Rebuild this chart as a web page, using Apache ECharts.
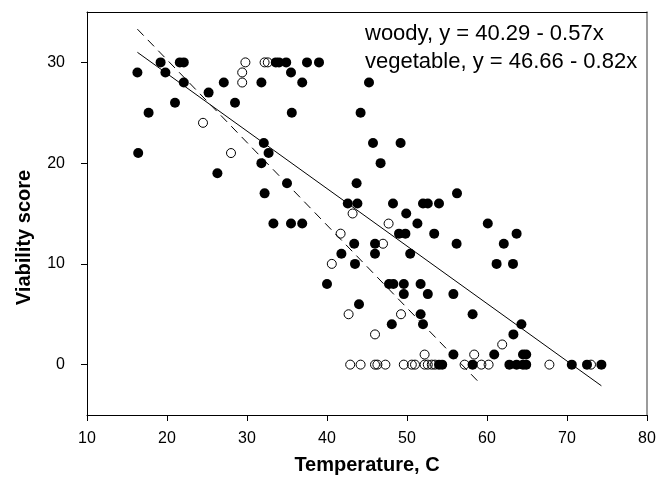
<!DOCTYPE html>
<html>
<head>
<meta charset="utf-8">
<script src="https://cdn.jsdelivr.net/npm/echarts@6/dist/echarts.min.js"></script>
<style>
  html, body { margin: 0; padding: 0; background: #ffffff; }
  #chart { width: 668px; height: 484px; }
</style>
</head>
<body>
<div id="chart"></div>
<script>
// woody (filled circles)
const woodyTemp = [
  16.3, 16.4, 17.7, 19.2, 19.8, 21.0, 21.6, 22.1, 22.1, 25.2, 26.3, 27.1, 28.5,
  31.8, 31.8, 32.1, 32.2, 32.7, 33.3, 33.6, 34.0, 34.9, 35.0, 35.5, 35.6, 35.5,
  36.9, 36.9, 37.5, 39.0, 40.0, 41.8, 42.6, 43.8, 43.4, 43.5, 43.7, 44.0, 44.2,
  45.25, 45.75, 46.0, 46.0, 46.7, 47.75, 48.3, 48.1, 48.25, 49.0, 49.2, 49.6,
  49.6, 49.8, 49.9, 50.4, 51.3, 51.7, 51.7, 52.0, 52.0, 52.6, 52.6, 53.4, 54.0,
  54.0, 54.4, 55.8, 55.8, 56.2, 56.25, 58.2, 58.2, 60.1, 60.9, 61.2, 62.1, 62.8,
  63.25, 63.3, 63.7, 63.7, 64.3, 64.5, 64.9, 64.5, 64.9, 70.6, 72.5, 74.3
];
const woodyScore = [
  29, 21, 25, 30, 29, 26, 30, 30, 28, 27, 19, 28, 26,
  28, 20, 22, 17, 21, 14, 30, 30, 30, 18, 29, 25, 14,
  28, 14, 30, 30, 8, 11, 16, 16, 12, 10, 18, 6, 25,
  28, 22, 12, 11, 20, 8, 8, 4, 16, 13, 22, 8,
  7, 13, 15, 11, 14, 8, 5, 4, 16, 16, 7, 13, 16,
  0, 0, 7, 1, 12, 17, 5, 0, 14, 1, 10, 12, 0,
  10, 3, 13, 0, 4, 1, 1, 0, 0, 0, 0, 0
];

// vegetable (open circles)
const vegTemp = [
  24.5, 28.0, 29.4, 29.4, 29.8, 32.2, 32.6, 40.6, 41.7, 42.7, 43.2, 46.0, 47.0,
  47.7, 49.25, 52.2, 58.4, 61.9,
  42.9, 44.2, 46.0, 46.3, 47.3, 49.6, 50.6, 51.0, 52.2, 52.6, 53.1, 53.5, 57.2,
  59.3, 60.2, 67.8, 73.0
];
const vegScore = [
  24, 21, 29, 28, 30, 30, 30, 10, 13, 5, 15, 3, 12,
  14, 5, 1, 1, 2,
  0, 0, 0, 0, 0, 0, 0, 0, 0, 0, 0, 0, 0,
  0, 0, 0, 0
];

// fitted line end points
const woodyFitTemp = [16.3, 74.3];
const woodyFitScore = [31.0, -2.1];
const vegFitTemp = [16.3, 58.8];
const vegFitScore = [33.3, -1.6];

const xTicks = [10, 20, 30, 40, 50, 60, 70, 80];
const yTicks = [0, 10, 20, 30];

const notes = [
  "woody, y = 40.29 - 0.57x",
  "vegetable, y = 46.66 - 0.82x"
];

const pairs = (xs, ys) => xs.map((x, i) => [x, ys[i]]);
const font = "'Liberation Sans', Arial, sans-serif";

const chart = echarts.init(document.getElementById("chart"), null, { renderer: "canvas" });

chart.setOption({
  animation: false,
  backgroundColor: "#ffffff",
  textStyle: { fontFamily: font },
  grid: {
    left: 87,
    right: 21,
    top: 12,
    bottom: 69,
    containLabel: false,
    outerBoundsMode: "none"
  },
  xAxis: [
    {
      type: "value",
      min: xTicks[0],
      max: xTicks[xTicks.length - 1],
      interval: 10,
      name: "Temperature, C",
      nameLocation: "middle",
      nameGap: 40,
      nameTextStyle: { fontSize: 20, fontWeight: "bold", color: "#000", fontFamily: font },
      axisLine: { onZero: false, lineStyle: { color: "#000", width: 1 } },
      axisTick: { show: true, inside: false, length: 6, lineStyle: { color: "#000" } },
      axisLabel: { fontSize: 16, color: "#000", margin: 16, fontFamily: font },
      splitLine: { show: false }
    },
    {
      type: "value",
      position: "top",
      min: xTicks[0],
      max: xTicks[xTicks.length - 1],
      axisLine: { onZero: false, lineStyle: { color: "#000", width: 1 } },
      axisTick: { show: false },
      axisLabel: { show: false },
      splitLine: { show: false }
    }
  ],
  yAxis: [
    {
      type: "value",
      min: -5,
      max: 35,
      name: "Viability score",
      nameLocation: "middle",
      nameGap: 53,
      nameRotate: 90,
      nameTextStyle: {
        fontSize: 20, fontWeight: "bold", color: "#000", fontFamily: font,
        padding: [0, 48, 0, 0]
      },
      axisLine: { show: true, onZero: false, lineStyle: { color: "#000", width: 1 } },
      axisTick: { show: true, length: 6, customValues: yTicks, lineStyle: { color: "#000" } },
      axisLabel: { fontSize: 16, color: "#000", margin: 22, customValues: yTicks, fontFamily: font },
      splitLine: { show: false }
    },
    {
      type: "value",
      position: "right",
      min: -5,
      max: 35,
      axisLine: { show: true, onZero: false, lineStyle: { color: "#7a7a7a", width: 1.5 } },
      axisTick: { show: false },
      axisLabel: { show: false },
      splitLine: { show: false }
    }
  ],
  graphic: notes.map((t, i) => ({
    type: "text",
    left: 365,
    top: 23 + i * 28,
    style: { text: t, fontSize: 22, fill: "#000", fontFamily: font }
  })),
  series: [
    {
      name: "vegetable fit",
      type: "line",
      data: pairs(vegFitTemp, vegFitScore),
      showSymbol: false,
      lineStyle: { color: "#000", width: 1, type: [9, 6] },
      z: 1
    },
    {
      name: "woody fit",
      type: "line",
      data: pairs(woodyFitTemp, woodyFitScore),
      showSymbol: false,
      lineStyle: { color: "#000", width: 1 },
      z: 1
    },
    {
      name: "vegetable",
      type: "scatter",
      data: pairs(vegTemp, vegScore),
      symbol: "circle",
      symbolSize: 9,
      itemStyle: { color: "rgba(255,255,255,0)", borderColor: "#000", borderWidth: 1, opacity: 1 },
      z: 2
    },
    {
      name: "woody",
      type: "scatter",
      data: pairs(woodyTemp, woodyScore),
      symbol: "circle",
      symbolSize: 10,
      itemStyle: { color: "#000", opacity: 1 },
      z: 3
    }
  ]
});
</script>
</body>
</html>
